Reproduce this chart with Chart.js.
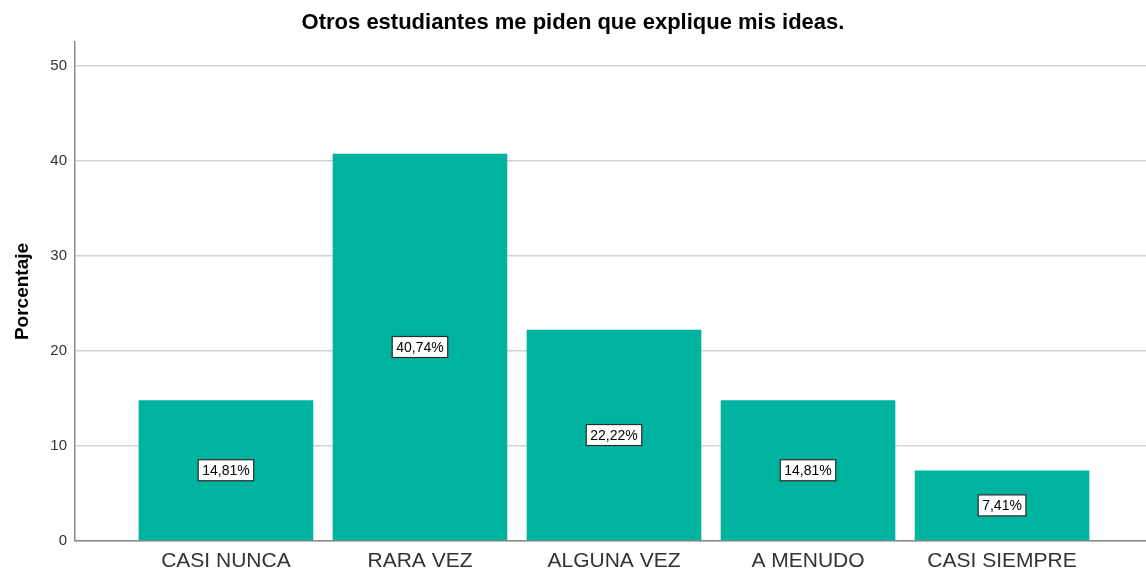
<!DOCTYPE html>
<html>
<head>
<meta charset="utf-8">
<script src="https://cdn.jsdelivr.net/npm/chart.js@4"></script>
<style>
  html, body { margin: 0; padding: 0; background: #fff; }
  #wrap { width: 1146px; height: 570px; }
</style>
</head>
<body>
<div id="wrap"><canvas id="chart" width="1146" height="570"></canvas></div>
<script>
const categories = ["CASI NUNCA", "RARA VEZ", "ALGUNA VEZ", "A MENUDO", "CASI SIEMPRE"];
const percentages = [14.81, 40.74, 22.22, 14.81, 7.41];
const yTicks = [0, 10, 20, 30, 40, 50];

const FONT = "'Liberation Sans', Arial, sans-serif";

// white boxed percent labels in the middle of each bar
const boxLabels = {
    id: "boxLabels",
    afterDatasetsDraw(chart) {
        const ctx = chart.ctx;
        const meta = chart.getDatasetMeta(0);
        ctx.save();
        ctx.font = "14px " + FONT;
        ctx.textAlign = "center";
        ctx.textBaseline = "middle";
        meta.data.forEach((bar, i) => {
            const txt = percentages[i].toFixed(2).replace(".", ",") + "%";
            const cy = (bar.y + bar.base) / 2;
            const w = ctx.measureText(txt).width + 8;
            const h = 21;
            ctx.fillStyle = "#fff";
            ctx.fillRect(bar.x - w / 2, cy - h / 2, w, h);
            ctx.strokeStyle = "#2b2b2b";
            ctx.lineWidth = 1.2;
            ctx.strokeRect(bar.x - w / 2, cy - h / 2, w, h);
            ctx.fillStyle = "#000";
            ctx.fillText(txt, bar.x, cy + 1);
        });
        ctx.restore();
    }
};

new Chart(document.getElementById("chart"), {
    type: "bar",
    data: {
        datasets: [{
            data: categories.map((c, i) => ({ x: i, y: percentages[i] })),
            backgroundColor: "#00b3a0",
            barPercentage: 0.9,
            categoryPercentage: 1.0,
            borderWidth: 0
        }]
    },
    plugins: [boxLabels],
    options: {
        responsive: false,
        animation: false,
        layout: { padding: { left: 0, right: 0, top: 0, bottom: 0 } },
        plugins: {
            legend: { display: false },
            tooltip: { enabled: false },
            title: {
                display: true,
                text: "Otros estudiantes me piden que explique mis ideas.",
                color: "#000",
                font: { family: FONT, size: 22, weight: "bold" },
                padding: { top: 10, bottom: 5.6 }
            }
        },
        scales: {
            x: {
                type: "linear",
                offset: false,
                min: -0.778,
                max: 4.742,
                afterBuildTicks(scale) {
                    scale.ticks = categories.map((c, i) => ({ value: i }));
                },
                afterFit(scale) { scale.height = 29; },
                grid: { display: false, drawTicks: false },
                border: { display: true, color: "#8a8a8a", width: 1.5 },
                ticks: {
                    color: "#333",
                    padding: 8,
                    maxRotation: 0,
                    autoSkip: false,
                    font: { family: FONT, size: 21 },
                    callback: (v) => categories[v] ?? ""
                }
            },
            y: {
                min: 0,
                max: 52.5,
                afterBuildTicks(scale) {
                    scale.ticks = yTicks.map(v => ({ value: v }));
                },
                afterFit(scale) { scale.width = 75; },
                grid: { color: "#d2d2d2", lineWidth: 1.5, drawTicks: false },
                border: { color: "#8a8a8a", width: 1.5 },
                ticks: {
                    color: "#333",
                    padding: 8,
                    font: { family: FONT, size: 15 }
                },
                title: {
                    display: true,
                    text: "Porcentaje",
                    color: "#000",
                    font: { family: FONT, size: 19, weight: "bold" },
                    padding: { top: 11, bottom: 0 }
                }
            }
        }
    }
});
</script>
</body>
</html>
